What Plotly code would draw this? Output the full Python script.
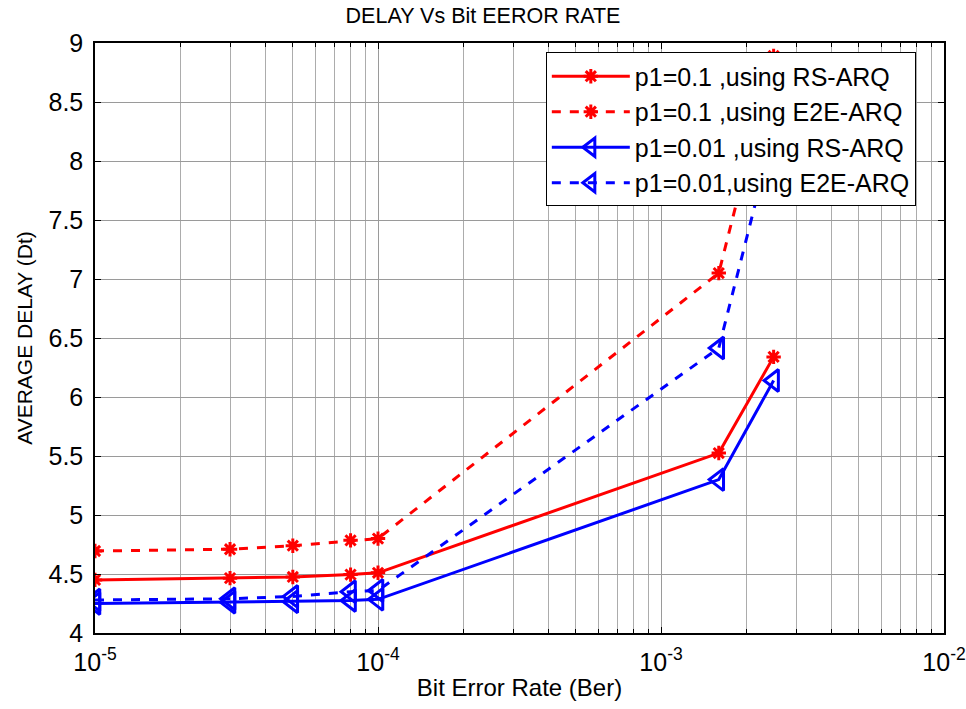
import plotly.graph_objects as go

ber = [1e-5, 3e-5, 5e-5, 8e-5, 1e-4, 1.6e-3, 2.5e-3]
p01_rs = [4.45, 4.465, 4.475, 4.495, 4.51, 5.525, 6.34]
p01_e2e = [4.695, 4.71, 4.74, 4.785, 4.80, 7.05, 8.89]
p001_rs = [4.25, 4.26, 4.265, 4.275, 4.285, 5.30, 6.14]
p001_e2e = [4.28, 4.29, 4.31, 4.35, 4.36, 6.415, 8.25]

names = ["p1=0.1 ,using RS-ARQ", "p1=0.1 ,using E2E-ARQ",
         "p1=0.01 ,using RS-ARQ", "p1=0.01,using E2E-ARQ"]

x_major = [1e-5, 1e-4, 1e-3, 1e-2]
x_major_text = ["10<sup>-5</sup>", "10<sup>-4</sup>", "10<sup>-3</sup>", "10<sup>-2</sup>"]
x_minor = [m * 10 ** e for e in (-5, -4, -3) for m in range(2, 10)]
y_ticks = [4, 4.5, 5, 5.5, 6, 6.5, 7, 7.5, 8, 8.5, 9]

FAM = "Arial, Liberation Sans, sans-serif"

fig = go.Figure()
series = [
    (p01_rs, "red", "solid", "asterisk-open", 12),
    (p01_e2e, "red", "dash", "asterisk-open", 12),
    (p001_rs, "blue", "solid", "triangle-left-open", 19),
    (p001_e2e, "blue", "dash", "triangle-left-open", 19),
]
for (vals, col, dash, sym, sz), nm in zip(series, names):
    fig.add_trace(go.Scatter(
        x=ber, y=vals, name=nm, mode="lines+markers",
        line=dict(color=col, width=3, dash=dash),
        marker=dict(symbol=sym, size=sz, color=col, line=dict(color=col, width=3)),
    ))

axis_font = dict(family=FAM, size=25, color="black")
fig.update_layout(
    width=966, height=709,
    margin=dict(l=95, r=22, t=43, b=76),
    paper_bgcolor="white", plot_bgcolor="white",
    title=dict(text="DELAY Vs Bit EEROR RATE", x=0.5, xanchor="center", y=0.978, yanchor="middle",
               font=dict(family=FAM, size=21.5, color="black")),
    font=dict(family=FAM, color="black"),
    legend=dict(x=0.531, y=0.984, xanchor="left", yanchor="top",
                bgcolor="white", bordercolor="black", borderwidth=1,
                font=dict(family=FAM, size=25, color="black"),
                itemwidth=78, tracegroupgap=0),
    showlegend=True,
)
fig.update_xaxes(
    type="log", range=[-5, -2], automargin=False,
    tickvals=x_major, ticktext=x_major_text, tickfont=axis_font,
    ticks="inside", ticklen=6, tickcolor="black", ticklabelstandoff=6,
    showline=True, linecolor="black", linewidth=1.5, mirror="ticks",
    showgrid=True, gridcolor="#9a9a9a", gridwidth=1,
    minor=dict(tickvals=x_minor, ticks="inside", ticklen=4, tickcolor="black",
               showgrid=True, gridcolor="#acacac", gridwidth=1),
    zeroline=False,
    title=dict(text="Bit Error Rate (Ber)", font=dict(family=FAM, size=24), standoff=4),
)
fig.update_yaxes(
    range=[4, 9], tickvals=y_ticks, tickfont=axis_font, automargin=False,
    ticks="inside", ticklen=6, tickcolor="black", ticklabelstandoff=5,
    showline=True, linecolor="black", linewidth=1.5, mirror="ticks",
    showgrid=True, gridcolor="#9a9a9a", gridwidth=1,
    zeroline=False,
    title=dict(text="AVERAGE DELAY (Dt)", font=dict(family=FAM, size=21), standoff=10),
)
fig.write_html("out.html")
